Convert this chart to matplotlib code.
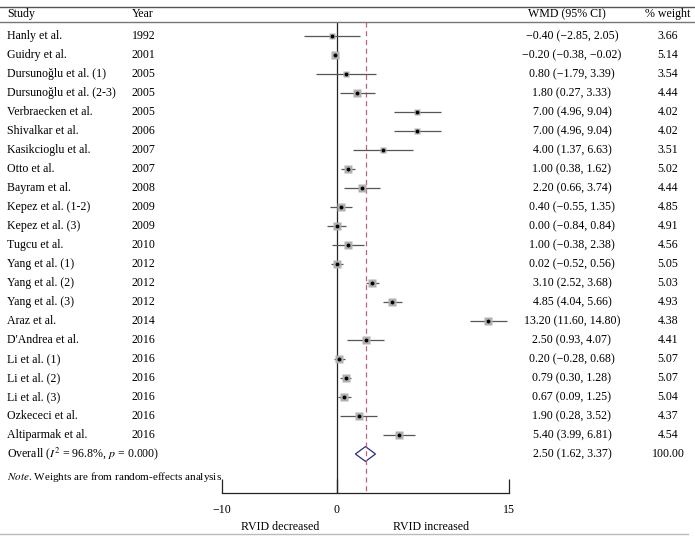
import matplotlib
matplotlib.use("Agg")
import matplotlib.pyplot as plt
import matplotlib.transforms as mtransforms
from matplotlib.patches import Polygon

plt.rcParams['font.family'] = ['Liberation Serif', 'DejaVu Serif']
plt.rcParams['mathtext.fontset'] = 'stix'

# study data
studies = ["Hanly et al.", "Guidry et al.", "Dursunoğlu et al. (1)", "Dursunoğlu et al. (2-3)",
           "Verbraecken et al.", "Shivalkar et al.", "Kasikcioglu et al.", "Otto et al.",
           "Bayram et al.", "Kepez et al. (1-2)", "Kepez et al. (3)", "Tugcu et al.",
           "Yang et al. (1)", "Yang et al. (2)", "Yang et al. (3)", "Araz et al.",
           "D'Andrea et al.", "Li et al. (1)", "Li et al. (2)", "Li et al. (3)",
           "Ozkececi et al.", "Altiparmak et al."]
years = [1992, 2001, 2005, 2005, 2005, 2006, 2007, 2007, 2008, 2009, 2009, 2010,
         2012, 2012, 2012, 2014, 2016, 2016, 2016, 2016, 2016, 2016]
wmd = [-0.40, -0.20, 0.80, 1.80, 7.00, 7.00, 4.00, 1.00, 2.20, 0.40, 0.00, 1.00,
       0.02, 3.10, 4.85, 13.20, 2.50, 0.20, 0.79, 0.67, 1.90, 5.40]
lo = [-2.85, -0.38, -1.79, 0.27, 4.96, 4.96, 1.37, 0.38, 0.66, -0.55, -0.84, -0.38,
      -0.52, 2.52, 4.04, 11.60, 0.93, -0.28, 0.30, 0.09, 0.28, 3.99]
hi = [2.05, -0.02, 3.39, 3.33, 9.04, 9.04, 6.63, 1.62, 3.74, 1.35, 0.84, 2.38,
      0.56, 3.68, 5.66, 14.80, 4.07, 0.68, 1.28, 1.25, 3.52, 6.81]
weights = [3.66, 5.14, 3.54, 4.44, 4.02, 4.02, 3.51, 5.02, 4.44, 4.85, 4.91, 4.56,
           5.05, 5.03, 4.93, 4.38, 4.41, 5.07, 5.07, 5.04, 4.37, 4.54]
overall = 2.50
overall_lo = 1.62
overall_hi = 3.37

W, H = 695, 542
fig = plt.figure(figsize=(W / 100, H / 100), dpi=100)

# forest axes: -10 at x=222px, 15 at x=509px; y from 22px to 493px, 19px per row
n = len(studies)
y_top = -14 / 19
y_bot = n + 39 / 19
ax = fig.add_axes([222 / W, 1 - 493 / H, 287 / W, 471 / H])
ax.set_xlim(-10, 15)
ax.set_ylim(y_bot, y_top)
for s in ['top', 'right', 'left']:
    ax.spines[s].set_visible(False)
ax.spines['bottom'].set_color('#222222')
ax.spines['bottom'].set_linewidth(0.9)
ax.set_yticks([])
ax.set_xticks([-10, 0, 15])
ax.set_xticklabels(["\u221210", "0", "15"], fontsize=8.6)
ax.tick_params(axis='x', direction='in', length=10, width=0.9, color='#222222', pad=8)
ax.set_facecolor('none')

# null line and overall line
ax.axvline(0, color='#222222', lw=0.9)
ax.plot([overall, overall], [y_top, y_bot], color='#c0607a', lw=0.9, ls=(0, (4, 3)))

rows = list(range(n))
for i in rows:
    ax.plot([lo[i], hi[i]], [i, i], color='#555555', lw=0.9, solid_capstyle='butt')
    ax.plot(wmd[i], i, marker='s', ms=weights[i] * 1.25, color='#b0b0b0', mec='none')
    ax.plot(wmd[i], i, marker='o', ms=2.8, color='black', mec='none')

# overall diamond
yo = n
dia = Polygon([[overall_lo, yo], [overall, yo - 0.39], [overall_hi, yo], [overall, yo + 0.39]],
              closed=True, fill=False, edgecolor='#2b2b80', lw=0.9)
ax.add_patch(dia)

# text columns (figure x, data y)
tr = mtransforms.blended_transform_factory(fig.transFigure, ax.transData)
fs = 8.6
x_ci = 572 / W
x_w = 668 / W
for i in rows:
    fig.text(7 / W, i, studies[i], transform=tr, fontsize=fs, va='center', ha='left')
    fig.text(132 / W, i, str(years[i]), transform=tr, fontsize=fs, va='center', ha='left')
    ci = f"{wmd[i]:.2f} ({lo[i]:.2f}, {hi[i]:.2f})".replace('-', '\u2212')
    fig.text(x_ci, i, ci, transform=tr, fontsize=fs, va='center', ha='center')
    fig.text(x_w, i, f"{weights[i]:.2f}", transform=tr, fontsize=fs, va='center', ha='center')

fig.text(7 / W, yo, r"Overall ($I^2$ = 96.8%, $p$ = 0.000)", transform=tr, fontsize=fs,
         va='center', ha='left')
fig.text(x_ci, yo, f"{overall:.2f} ({overall_lo:.2f}, {overall_hi:.2f})", transform=tr,
         fontsize=fs, va='center', ha='center')
fig.text(x_w, yo, "100.00", transform=tr, fontsize=fs, va='center', ha='center')

fig.text(7 / W, 1 - 477 / H, r"$\it{Note}$. Weights are from random-effects analysis",
         fontsize=8.0, va='center', ha='left')

# headers
fig.text(7 / W, 1 - 14 / H, "Study", fontsize=fs, va='center', ha='left')
fig.text(132 / W, 1 - 14 / H, "Year", fontsize=fs, va='center', ha='left')
fig.text(567 / W, 1 - 14 / H, "WMD (95% CI)", fontsize=fs, va='center', ha='center')
fig.text(x_w, 1 - 14 / H, "% weight", fontsize=fs, va='center', ha='center')

# footer labels
fig.text(280 / W, 1 - 527 / H, "RVID decreased", fontsize=fs, va='center', ha='center')
fig.text(431 / W, 1 - 527 / H, "RVID increased", fontsize=fs, va='center', ha='center')

# horizontal rules
fig.add_artist(plt.Line2D([0, 1], [1 - 7 / H, 1 - 7 / H], color='#555555', lw=1.0))
fig.add_artist(plt.Line2D([0, 1], [1 - 22 / H, 1 - 22 / H], color='#777777', lw=1.0))
fig.add_artist(plt.Line2D([0, 688 / W], [1 - 534 / H, 1 - 534 / H], color='#bbbbbb', lw=1.0))

fig.savefig("out.png", dpi=100)
